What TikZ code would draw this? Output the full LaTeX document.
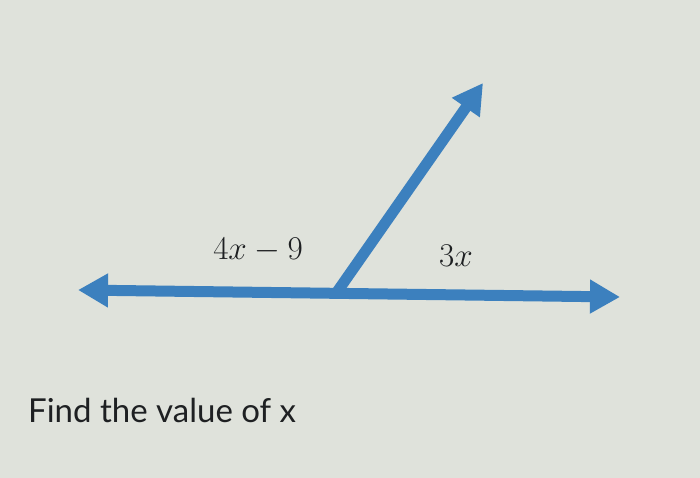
\documentclass[tikz,border=0pt]{standalone}
\usepackage{fontspec}
\newfontfamily\latofont{Lato}
\usetikzlibrary{arrows.meta}
\definecolor{screen}{RGB}{223,226,219}
\definecolor{rayblue}{RGB}{60,128,190}
\definecolor{ink}{RGB}{30,32,34}
\newcommand{\biglabel}[1]{\scalebox{1.6}{$#1$}}

\begin{document}
\begin{tikzpicture}[x=1pt,y=-1pt,
  ray/.style={rayblue, line width=11pt, -{Triangle[length=30pt,width=32pt]}},
  label/.style={text=ink, font=\huge, inner sep=0pt}]
% Background and bounding box
\fill[screen] (0,0) rectangle (700,478);
\useasboundingbox (0,0) rectangle (700,478);
\coordinate (vertex) at (337,292);
\coordinate (left) at (78,290);
\coordinate (right) at (620,297);
\coordinate (tip) at (483,83);
% Draw the line through the vertex
\draw[ray, {Triangle[length=30pt,width=32pt]}-{Triangle[length=30pt,width=32pt]}] (left) -- (right);
% Draw the ray
\draw[ray] (vertex) -- (tip);
% Angle labels
\node[label] (leftangle) at (258,250) {\biglabel{4x-9}};
\node[label] (rightangle) at (456,256) {\biglabel{3x}};
% Question
\node[text=ink, font=\latofont\fontsize{33}{33}\selectfont, anchor=base west, inner sep=0pt] (question) at (28,422) {Find the value of x};
\end{tikzpicture}
\end{document}
